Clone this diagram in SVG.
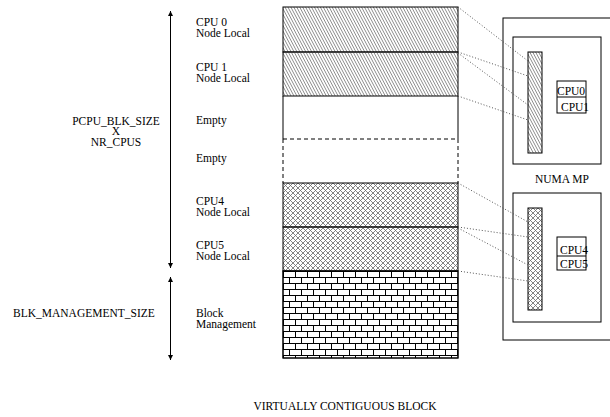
<svg xmlns="http://www.w3.org/2000/svg" width="610" height="417" viewBox="0 0 610 417">
<style>
text{font-family:"Liberation Serif","Times New Roman",serif;font-size:11.5px;fill:#000}
.box{fill:none;stroke:#000;stroke-width:1}
.dot{fill:none;stroke:#555;stroke-width:1;stroke-dasharray:1 2}
.arr{stroke:#000;stroke-width:1;fill:none}
</style>
<defs>
<pattern id="hatch" patternUnits="userSpaceOnUse" width="2.6" height="12" patternTransform="rotate(-28)">
<line x1="1.3" y1="0" x2="1.3" y2="12" stroke="#777" stroke-width="0.8"/>
</pattern>
<pattern id="cross" patternUnits="userSpaceOnUse" x="283" y="183" width="5" height="5">
<path d="M0,0 L5,5 M5,0 L0,5" stroke="#666" stroke-width="0.8"/>
</pattern>
<pattern id="brick" patternUnits="userSpaceOnUse" x="283" y="271" width="12" height="12">
<path d="M0,0.5 H12 M0,6.5 H12 M0.5,0 V6.5 M6.5,6.5 V12" stroke="#000" stroke-width="1" fill="none"/>
</pattern>
<marker id="ah" viewBox="0 0 10 10" refX="10" refY="5" markerWidth="5" markerHeight="8" orient="auto" markerUnits="userSpaceOnUse">
<path d="M0,0 L10,5 L0,10 Z" fill="#000"/>
</marker>
</defs>

<g id="size-arrows">
<line class="arr" x1="170.5" y1="20" x2="170.5" y2="11" marker-end="url(#ah)"/>
<line class="arr" x1="170.5" y1="14" x2="170.5" y2="268" marker-end="url(#ah)"/>
<line class="arr" x1="170.5" y1="285" x2="170.5" y2="277" marker-end="url(#ah)"/>
<line class="arr" x1="170.5" y1="280" x2="170.5" y2="360" marker-end="url(#ah)"/>
<text x="116" y="124.5" text-anchor="middle">PCPU_BLK_SIZE</text>
<text x="116" y="135" text-anchor="middle">X</text>
<text x="116" y="145.5" text-anchor="middle">NR_CPUS</text>
<text x="13" y="317">BLK_MANAGEMENT_SIZE</text>
</g>

<g id="cpu0">
<rect x="283" y="7" width="175" height="45" class="box" style="fill:url(#hatch)"/>
<text x="196" y="26">CPU 0</text>
<text x="196" y="37">Node Local</text>
</g>
<g id="cpu1">
<rect x="283" y="52" width="175" height="44" class="box" style="fill:url(#hatch)"/>
<text x="196" y="71">CPU 1</text>
<text x="196" y="82">Node Local</text>
</g>
<g id="empty1">
<path d="M283,96 V139 M458,96 V139" class="box"/>
<text x="196" y="124">Empty</text>
</g>
<g id="empty2">
<path d="M283,139 H458 M283,139 V183 M458,139 V183" class="box" stroke-dasharray="4 3"/>
<text x="196" y="162">Empty</text>
</g>
<g id="cpu4">
<rect x="283" y="183" width="175" height="44" class="box" style="fill:url(#cross)"/>
<text x="196" y="205">CPU4</text>
<text x="196" y="216">Node Local</text>
</g>
<g id="cpu5">
<rect x="283" y="227" width="175" height="44" class="box" style="fill:url(#cross)"/>
<text x="196" y="249">CPU5</text>
<text x="196" y="260">Node Local</text>
</g>
<g id="block-management">
<rect x="283" y="271" width="175" height="87" class="box" style="fill:url(#brick)"/>
<rect x="283" y="271" width="175" height="87" class="box" stroke-width="1.5"/>
<text x="196" y="317">Block</text>
<text x="196" y="328">Management</text>
</g>

<g id="numa-mp">
<rect x="503" y="18" width="110" height="322" class="box"/>
<text x="562" y="183" text-anchor="middle">NUMA MP</text>
</g>
<g id="node0">
<rect x="513" y="37" width="88" height="127" class="box"/>
<rect x="528" y="52" width="14" height="101" class="box" style="fill:url(#hatch)"/>
<rect x="557" y="81" width="29" height="32" class="box"/>
<line x1="557" y1="97" x2="586" y2="97" stroke="#000"/>
<text x="557" y="94.5">CPU0</text>
<text x="561" y="110.5">CPU1</text>
</g>
<g id="node1">
<rect x="513" y="193" width="88" height="129" class="box"/>
<rect x="528" y="208" width="14" height="102" class="box" style="fill:url(#cross)"/>
<rect x="557" y="237" width="29" height="33" class="box"/>
<line x1="557" y1="256" x2="586" y2="256" stroke="#000"/>
<text x="560" y="253.5">CPU4</text>
<text x="560" y="267.5">CPU5</text>
</g>

<g id="connectors">
<line class="dot" x1="458" y1="7" x2="528" y2="61"/>
<line class="dot" x1="458" y1="52" x2="528" y2="76"/>
<line class="dot" x1="458" y1="53" x2="528" y2="105"/>
<line class="dot" x1="458" y1="96" x2="528" y2="120"/>
<line class="dot" x1="458" y1="183" x2="528" y2="222"/>
<line class="dot" x1="458" y1="227" x2="528" y2="237"/>
<line class="dot" x1="458" y1="228" x2="528" y2="265"/>
<line class="dot" x1="458" y1="271" x2="528" y2="281"/>
</g>

<text x="345" y="410" text-anchor="middle">VIRTUALLY CONTIGUOUS BLOCK</text>
</svg>
